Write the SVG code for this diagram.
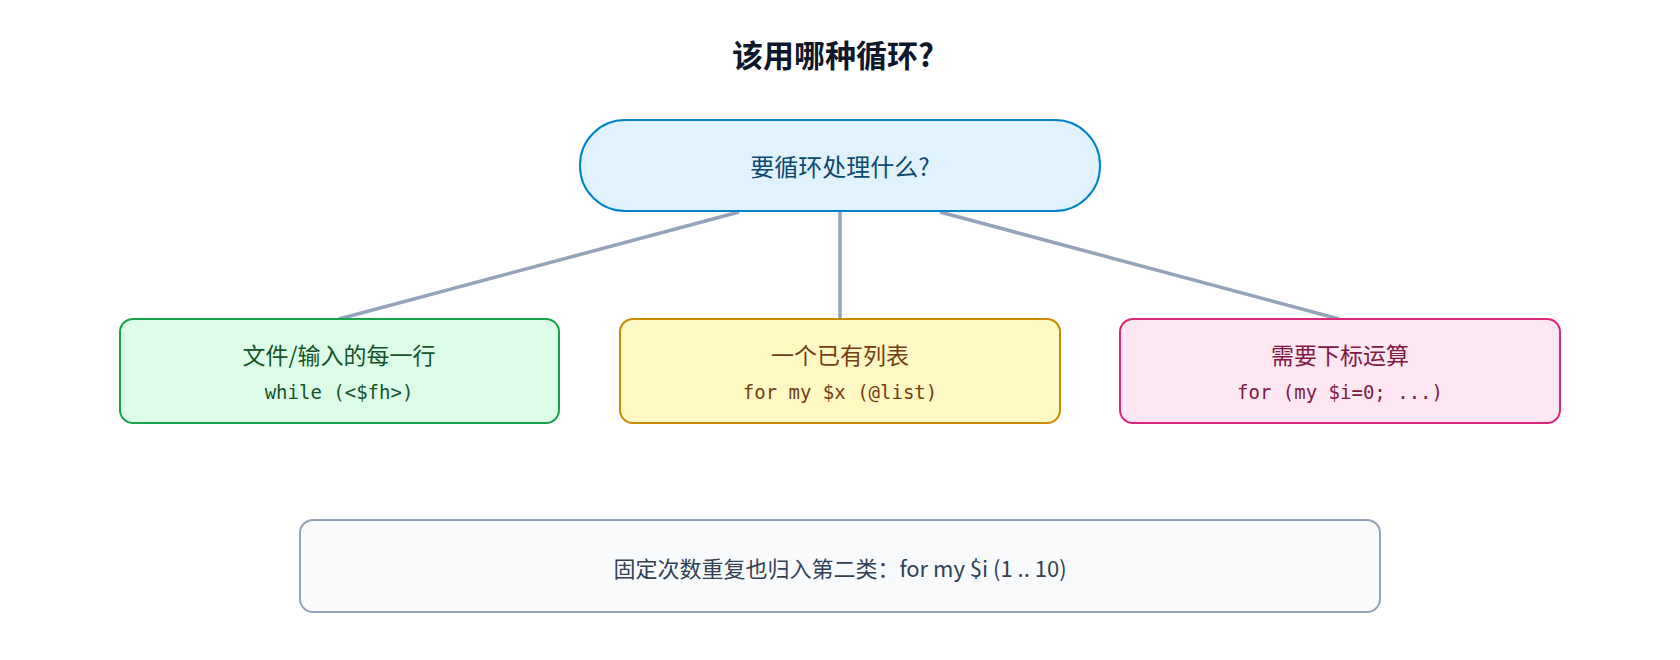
<svg xmlns="http://www.w3.org/2000/svg" width="1680" height="660" viewBox="0 0 1680 660">
<style>
.t{font-family:"Noto Sans CJK SC","Noto Sans",sans-serif;text-anchor:middle}
.m{font-family:"DejaVu Sans Mono","Liberation Mono",monospace;text-anchor:middle;font-size:19px}
.c{stroke:#94a3b8;stroke-width:3.5;fill:none}
</style>
<rect width="1680" height="660" fill="#fff"/>
<text class="t" x="833" y="67" font-size="31" font-weight="bold" fill="#0f172a">该用哪种循环?</text>
<g id="connectors">
<line class="c" x1="739" y1="212" x2="339" y2="319"/>
<line class="c" x1="840" y1="212" x2="840" y2="319"/>
<line class="c" x1="940" y1="212" x2="1339" y2="319"/>
</g>
<g id="root">
<rect x="580" y="120" width="520" height="91" rx="45" fill="#e0f2fe" stroke="#0284c7" stroke-width="2"/>
<text class="t" x="840" y="176" font-size="24" fill="#0c4a6e">要循环处理什么?</text>
</g>
<g id="n1">
<rect x="120" y="319" width="439" height="104" rx="13" fill="#dcfce7" stroke="#16a34a" stroke-width="2"/>
<text class="t" x="339" y="364" font-size="23" fill="#14532d">文件/输入的每一行</text>
<text class="m" x="339" y="399" fill="#14532d">while (&lt;$fh&gt;)</text>
</g>
<g id="n2">
<rect x="620" y="319" width="440" height="104" rx="13" fill="#fef9c3" stroke="#ca8a04" stroke-width="2"/>
<text class="t" x="840" y="364" font-size="23" fill="#713f12">一个已有列表</text>
<text class="m" x="840" y="399" fill="#713f12">for my $x (@list)</text>
</g>
<g id="n3">
<rect x="1120" y="319" width="440" height="104" rx="13" fill="#fce7f3" stroke="#db2777" stroke-width="2"/>
<text class="t" x="1340" y="364" font-size="23" fill="#831843">需要下标运算</text>
<text class="m" x="1340" y="399" fill="#831843">for (my $i=0; ...)</text>
</g>
<g id="note">
<rect x="300" y="520" width="1080" height="92" rx="13" fill="#f8fafc" stroke="#94a3b8" stroke-width="2"/>
<text class="t" x="840" y="577" font-size="22" fill="#334155">固定次数重复也归入第二类：for my $i (1 .. 10)</text>
</g>
</svg>
